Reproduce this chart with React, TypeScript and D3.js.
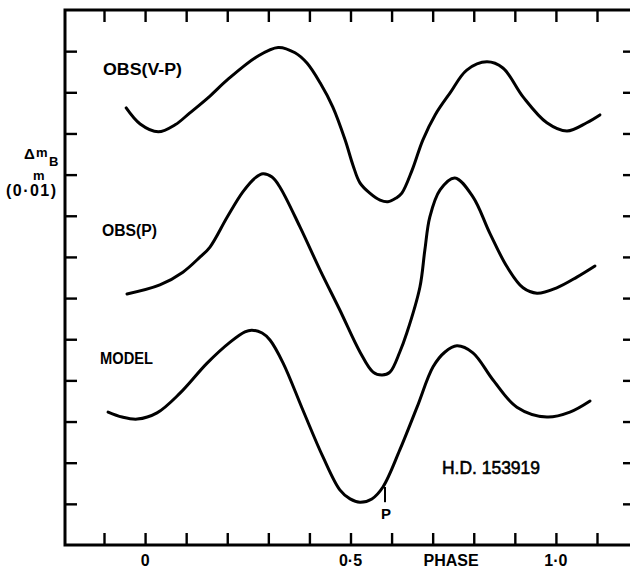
import React, { useEffect, useRef } from 'react';
import * as d3 from 'd3';

// phase ticks along top and bottom edges
const phaseTicks = [-0.1, 0, 0.1, 0.2, 0.3, 0.4, 0.5, 0.6, 0.7, 0.8, 0.9, 1.0, 1.1];
// magnitude ticks, in units of 0.01 mag
const magTicks = [1, 2, 3, 4, 5, 6, 7, 8, 9, 10, 11, 12];
const phaseLabels = [
  { phase: 0, text: '0' },
  { phase: 0.5, text: '0·5' },
  { phase: 0.745, text: 'PHASE' },
  { phase: 1.0, text: '1·0' },
];

// OBS(V-P)
const vpPhase = [-0.046, -0.012, 0.032, 0.073, 0.109, 0.158, 0.2, 0.273, 0.324, 0.365, 0.394, 0.426, 0.457, 0.487, 0.506, 0.523, 0.547, 0.572, 0.591, 0.611, 0.625, 0.65, 0.676, 0.706, 0.742, 0.783, 0.832, 0.871, 0.92, 0.978, 1.027, 1.075, 1.107];
const vpMag = [10.62, 10.23, 10.04, 10.21, 10.5, 10.91, 11.3, 11.87, 12.09, 11.96, 11.71, 11.23, 10.64, 9.84, 9.23, 8.8, 8.55, 8.38, 8.34, 8.43, 8.55, 9.11, 9.84, 10.45, 10.98, 11.54, 11.74, 11.59, 10.89, 10.26, 10.06, 10.26, 10.45];

// OBS(P)
const pPhase = [-0.044, 0.036, 0.092, 0.134, 0.158, 0.2, 0.238, 0.268, 0.287, 0.309, 0.328, 0.377, 0.426, 0.474, 0.523, 0.555, 0.577, 0.596, 0.62, 0.637, 0.669, 0.681, 0.693, 0.718, 0.754, 0.798, 0.839, 0.881, 0.92, 0.954, 1.002, 1.051, 1.095];
const pMag = [6.1, 6.32, 6.63, 7.0, 7.24, 7.97, 8.58, 8.92, 9.02, 8.94, 8.7, 7.73, 6.68, 5.71, 4.69, 4.2, 4.13, 4.2, 4.69, 5.15, 6.27, 7.17, 7.97, 8.63, 8.92, 8.46, 7.58, 6.76, 6.25, 6.12, 6.25, 6.51, 6.78];

// MODEL
const modelPhase = [-0.09, -0.056, -0.019, 0.029, 0.085, 0.151, 0.207, 0.243, 0.26, 0.285, 0.304, 0.336, 0.384, 0.433, 0.474, 0.499, 0.523, 0.552, 0.579, 0.62, 0.662, 0.701, 0.73, 0.759, 0.798, 0.847, 0.905, 0.978, 1.034, 1.083];
const modelMag = [3.23, 3.11, 3.06, 3.21, 3.69, 4.42, 4.93, 5.18, 5.22, 5.15, 4.98, 4.42, 3.28, 2.14, 1.34, 1.12, 1.04, 1.12, 1.41, 2.31, 3.35, 4.33, 4.69, 4.84, 4.67, 4.01, 3.35, 3.11, 3.23, 3.5];

// periastron marker
const markPhase = 0.584;
const markMag = [1.41, 1.04];

const App = () => {
  const svgRef = useRef<SVGSVGElement>(null);

  useEffect(() => {
    const width = 630,
      height = 568;
    const frame = { left: 65, right: 631, top: 10, bottom: 545 };

    const svg = d3.select(svgRef.current).attr('width', width).attr('height', height);
    svg.selectAll('*').remove();

    const x = d3.scaleLinear().domain([-0.1, 1.1]).range([104, 597]);
    const y = d3.scaleLinear().domain([0, 13]).range([frame.bottom, frame.top]);

    const font = "'Liberation Sans', Arial, sans-serif";

    // ticks
    const styleAxis = (g) => {
      g.select('.domain').remove();
      g.selectAll('text').remove();
      g.selectAll('line').attr('stroke', '#000').attr('stroke-width', 2.4);
    };

    svg.append('g').attr('transform', `translate(0,${frame.bottom})`)
      .call(d3.axisTop(x).tickValues(phaseTicks).tickSize(12)).call(styleAxis);
    svg.append('g').attr('transform', `translate(0,${frame.top})`)
      .call(d3.axisBottom(x).tickValues(phaseTicks).tickSize(12)).call(styleAxis);
    svg.append('g').attr('transform', `translate(${frame.left},0)`)
      .call(d3.axisRight(y).tickValues(magTicks).tickSize(12)).call(styleAxis);
    svg.append('g').attr('transform', `translate(${frame.right},0)`)
      .call(d3.axisLeft(y).tickValues(magTicks).tickSize(8)).call(styleAxis);

    // frame
    svg.append('path')
      .attr('d', `M${frame.right},${frame.top}H${frame.left}V${frame.bottom}H${frame.right}`)
      .attr('fill', 'none')
      .attr('stroke', '#000')
      .attr('stroke-width', 3);

    // curves
    const line = d3.line<[number, number]>()
      .x((d) => x(d[0]))
      .y((d) => y(d[1]))
      .curve(d3.curveCatmullRom.alpha(0.5));

    const series = [
      d3.zip(vpPhase, vpMag),
      d3.zip(pPhase, pMag),
      d3.zip(modelPhase, modelMag),
    ];
    svg.selectAll('.curve')
      .data(series)
      .join('path')
      .attr('class', 'curve')
      .attr('d', (d) => line(d as [number, number][]))
      .attr('fill', 'none')
      .attr('stroke', '#000')
      .attr('stroke-width', 3)
      .attr('stroke-linejoin', 'round')
      .attr('stroke-linecap', 'round');

    // P marker
    svg.append('line')
      .attr('x1', x(markPhase)).attr('x2', x(markPhase))
      .attr('y1', y(markMag[0])).attr('y2', y(markMag[1]))
      .attr('stroke', '#000').attr('stroke-width', 2);
    svg.append('text')
      .attr('x', x(markPhase) + 1).attr('y', 519)
      .attr('text-anchor', 'middle')
      .attr('font-family', font).attr('font-weight', 'bold').attr('font-size', 15)
      .text('P');

    // curve labels
    const labels = [
      { text: 'OBS(V-P)', x: 103, y: 75, len: 79 },
      { text: 'OBS(P)', x: 102, y: 236, len: 55 },
      { text: 'MODEL', x: 100, y: 364, len: 53 },
    ];
    svg.selectAll('.lbl')
      .data(labels)
      .join('text')
      .attr('class', 'lbl')
      .attr('x', (d) => d.x)
      .attr('y', (d) => d.y)
      .attr('textLength', (d) => d.len)
      .attr('lengthAdjust', 'spacingAndGlyphs')
      .attr('font-family', font).attr('font-weight', 'bold').attr('font-size', 16)
      .text((d) => d.text);

    svg.append('text')
      .attr('x', 442).attr('y', 474)
      .attr('textLength', 98).attr('lengthAdjust', 'spacingAndGlyphs')
      .attr('font-family', font).attr('font-size', 19)
      .attr('stroke', '#000').attr('stroke-width', 0.6)
      .text('H.D. 153919');

    // phase labels
    svg.selectAll('.plbl')
      .data(phaseLabels)
      .join('text')
      .attr('class', 'plbl')
      .attr('x', (d) => x(d.phase))
      .attr('y', 566)
      .attr('text-anchor', 'middle')
      .attr('font-family', font).attr('font-weight', 'bold').attr('font-size', 16)
      .text((d) => d.text);

    // y label
    const yl = svg.append('g').attr('font-family', font).attr('font-weight', 'bold');
    yl.append('text').attr('x', 24).attr('y', 159).attr('font-size', 15).text('Δ');
    yl.append('text').attr('x', 36).attr('y', 157).attr('font-size', 13).text('m');
    yl.append('text').attr('x', 49).attr('y', 166).attr('font-size', 13).text('B');
    yl.append('text').attr('x', 33).attr('y', 180).attr('font-size', 13).text('m');
    yl.append('text').attr('x', 6).attr('y', 196).attr('font-size', 16).attr('textLength', 50).text('(0·01)');
  }, []);

  return <svg ref={svgRef} style={{ position: 'absolute', left: 0, top: 0, background: '#fff' }}></svg>;
};

export default App;
